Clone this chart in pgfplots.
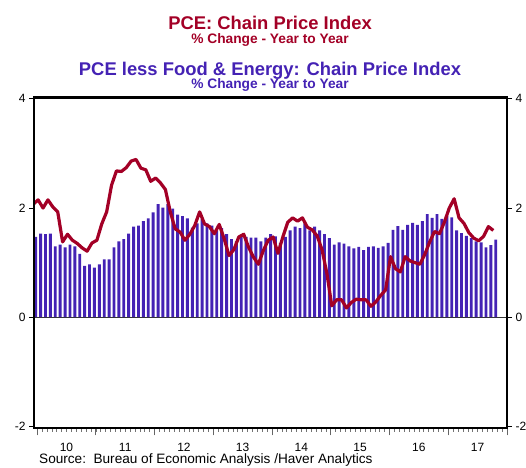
\documentclass[border=0pt]{standalone}
\usepackage{fontspec}
\setmainfont{Liberation Sans}
\usepackage{pgfplots}
\pgfplotsset{compat=1.18}
\usepackage{pgfplotstable}
\definecolor{pcered}{RGB}{163,0,38}
\definecolor{coreblue}{RGB}{68,34,180}

% PCE less food & energy, % change y/y (bars), Jan 2010 onward
\pgfplotstableread{
v
1.47
1.53
1.52
1.53
1.30
1.33
1.28
1.33
1.30
1.16
0.94
0.97
0.91
0.97
1.06
1.06
1.28
1.39
1.43
1.53
1.66
1.68
1.76
1.81
1.92
2.07
2.01
2.07
1.99
1.88
1.85
1.81
1.64
1.72
1.80
1.72
1.68
1.59
1.63
1.52
1.43
1.39
1.47
1.47
1.46
1.46
1.39
1.46
1.52
1.48
1.36
1.47
1.59
1.66
1.63
1.72
1.59
1.66
1.59
1.52
1.45
1.33
1.37
1.35
1.30
1.26
1.29
1.23
1.29
1.30
1.27
1.30
1.36
1.60
1.67
1.60
1.69
1.73
1.69
1.76
1.89
1.82
1.89
1.80
1.85
1.83
1.59
1.54
1.49
1.45
1.39
1.37
1.28
1.32
1.42
}\corebars

% PCE chain price index, % change y/y (line)
\pgfplotstableread{
v
2.07
2.15
2.00
2.15
2.02
1.93
1.38
1.52
1.41
1.35
1.27
1.21
1.36
1.41
1.71
1.93
2.42
2.68
2.67
2.74
2.86
2.89
2.73
2.70
2.49
2.55
2.46
2.34
1.93
1.62
1.56
1.41
1.52
1.68
1.93
1.71
1.66
1.53
1.70
1.44
1.13
1.24
1.47
1.52
1.28
1.10
0.97
1.22
1.41
1.47
1.17
1.47
1.74
1.82
1.76
1.82
1.65
1.60
1.49
1.24
0.80
0.21
0.32
0.32
0.17
0.27
0.33
0.32
0.32
0.20
0.28
0.40
0.50
1.11
0.89
0.83
1.11
1.03
1.00
0.97
1.15
1.38
1.57
1.53
1.74
2.00
2.17
1.82
1.72
1.55
1.45
1.40
1.48
1.66
1.59
}\pceline

\begin{document}
\begin{tikzpicture}[x=1pt,y=1pt]
\path[use as bounding box] (0,0) rectangle (526,467);
\pgfplotsset{
  common/.style={scale only axis, width=473pt, height=330.8pt,
    at={(34pt,38.7pt)}, anchor=south west,
    xmin=-0.347, xmax=96.3, ymin=-2.035, ymax=4.025},
}
% main axis: frame, data, x ticks
\begin{axis}[common,
  axis on top,
  axis line style={line width=2.3pt},
  ytick=\empty,
  xtick={0.3,12.3,...,96.3},
  xticklabels={10,11,12,13,14,15,16,17,{}},
  minor xtick={0.3,1.3,...,96.3},
  tick align=outside,
  xtick pos=lower,
  major tick length=7pt,
  minor tick length=3.5pt,
  every major x tick/.style={black!60, line width=0.9pt},
  every minor x tick/.style={black!55, line width=0.7pt},
  x tick label style={font=\fontsize{12}{14}\selectfont, xshift=29.3pt, yshift=-4pt},
]
\draw[black!80, line width=0.6pt] (axis cs:-0.347,0) -- (axis cs:96.3,0);
\addplot[ybar, bar width=2.9pt, fill=coreblue, draw=none]
  table[x expr=\coordindex, y=v] {\corebars};
\addplot[pcered, line width=3.2pt, line join=round, no markers]
  table[x expr=\coordindex-0.5, y=v] {\pceline};
\draw[black, line width=2.3pt] (rel axis cs:0,0) rectangle (rel axis cs:1,1);
\end{axis}
% left y axis
\begin{axis}[common,
  hide x axis,
  axis y line*=left,
  y axis line style={-, line width=2.3pt},
  ytick={-2,0,2,4}, yticklabels={-2,0,2,4},
  tick align=outside, major tick length=5pt,
  every major y tick/.style={black, line width=0.9pt},
  y tick label style={font=\fontsize{12}{14}\selectfont},
]
\end{axis}
% right y axis
\begin{axis}[common,
  hide x axis,
  axis y line*=right,
  y axis line style={-, line width=2.3pt},
  ytick={-2,0,2,4}, yticklabels={-2,0,2,4},
  tick align=outside, major tick length=5pt,
  every major y tick/.style={black, line width=0.9pt},
  y tick label style={font=\fontsize{12}{14}\selectfont},
]
\end{axis}
% titles
\node[anchor=base, inner sep=0pt, text=pcered, font=\fontsize{18.4}{20}\selectfont\bfseries] at (270,437.8) {PCE: Chain Price Index};
\node[anchor=base, inner sep=0pt, text=pcered, font=\fontsize{13.75}{15}\selectfont\bfseries] at (270,423.8) {\% Change - Year to Year};
\node[anchor=base, inner sep=0pt, text=coreblue, font=\fontsize{18.4}{20}\selectfont\bfseries] at (270,391.3) {PCE less Food \& Energy: Chain Price Index};
\node[anchor=base, inner sep=0pt, text=coreblue, font=\fontsize{13.75}{15}\selectfont\bfseries] at (270,378.8) {\% Change - Year to Year};
\node[anchor=base west, inner sep=0pt, font=\fontsize{13.6}{15}\selectfont] at (39,3.5) {Source:\ \ Bureau of Economic Analysis /Haver Analytics};
\end{tikzpicture}
\end{document}
